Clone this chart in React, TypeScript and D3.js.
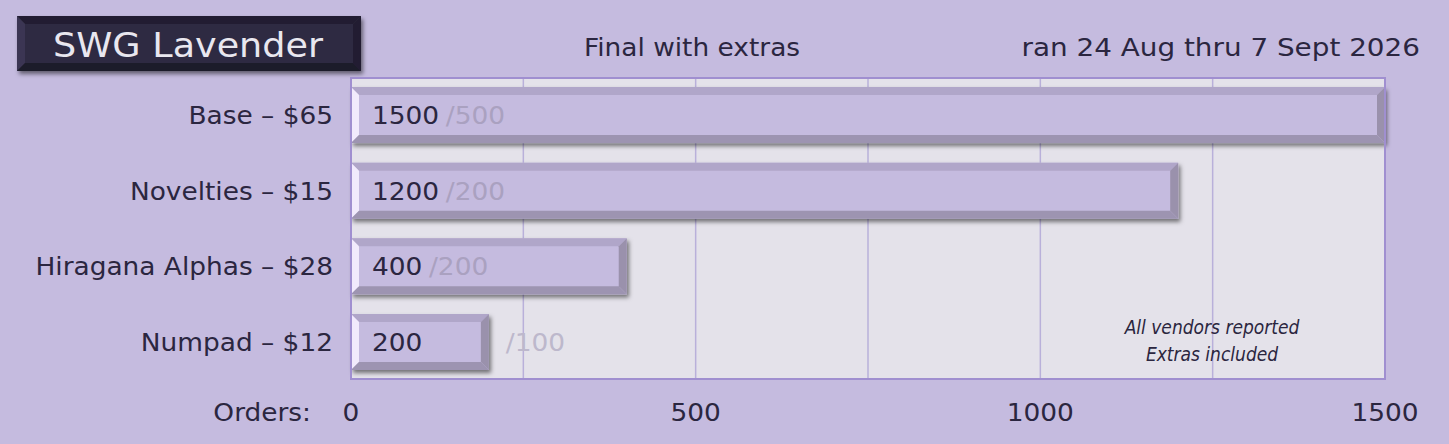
import React from "react";
import * as d3 from "d3";

const categories: string[] = ["Base – $65", "Novelties – $15", "Hiragana Alphas – $28", "Numpad – $12"];
const orders: number[] = [1500, 1200, 400, 200];
const extras: number[] = [500, 200, 200, 100];
const xTicks: number[] = [0, 500, 1000, 1500];
const gridTicks: number[] = [250, 500, 750, 1000, 1250];
const title = "SWG Lavender";
const subtitle = "Final with extras";
const dateRange = "ran 24 Aug thru 7 Sept 2026";
const notes: string[] = ["All vendors reported", "Extras included"];

const width = 1449;
const height = 444;
const marginLeft = 351;
const marginRight = 64;
const marginTop = 78;
const marginBottom = 65;
const bevel = 8;

const font = "'DejaVu Sans', sans-serif";
const ink = "#2b2640";

// text stretched sideways, the original face is wider than anything installed
const Wide: React.FC<{ x: number; y: number; sx?: number; size?: number; anchor?: string; fill?: string; children: React.ReactNode }> =
    ({ x, y, sx = 1.1, size = 24, anchor = "start", fill = ink, children }) => (
        <text transform={`translate(${x},${y}) scale(${sx},1)`} textAnchor={anchor} fontFamily={font} fontSize={size} fill={fill}>
            {children}
        </text>
    );

const App: React.FC = () => {
    const xScale = d3.scaleLinear().domain([0, 1500]).range([marginLeft, width - marginRight]);
    const yScale = d3.scaleBand<string>()
        .domain(categories)
        .range([marginTop, height - marginBottom])
        .paddingInner(0.26)
        .paddingOuter(0.12);
    const bw = yScale.bandwidth();
    const x0 = xScale(0);

    return (
        <svg width={width} height={height} style={{ position: "absolute", left: 0, top: 0, background: "#c5bbdf" }}>
            <defs>
                <filter id="shadow" x="-5%" y="-20%" width="110%" height="160%">
                    <feDropShadow dx="2" dy="3" stdDeviation="2" floodColor="#000" floodOpacity="0.5" />
                </filter>
            </defs>
            <rect width={width} height={height} fill="#c5bbdf" />

            {/* title box */}
            <g filter="url(#shadow)">
                <rect x={17} y={16} width={344} height={55} fill="#2e2a42" />
                <polygon points="17,16 361,16 353,24 25,24" fill="#221e31" />
                <polygon points="17,16 25,24 25,63 17,71" fill="#3b3652" />
                <polygon points="361,16 361,71 353,63 353,24" fill="#221e31" />
                <polygon points="17,71 361,71 353,63 25,63" fill="#1f1b2c" />
            </g>
            <Wide x={188} y={57} size={34} sx={1.075} anchor="middle" fill="#e9e7ef">{title}</Wide>
            <Wide x={692} y={56} anchor="middle">{subtitle}</Wide>
            <Wide x={1420} y={56} sx={1.16} anchor="end">{dateRange}</Wide>

            {/* plot area */}
            <rect x={marginLeft} y={marginTop} width={width - marginRight - marginLeft} height={height - marginBottom - marginTop} fill="#e4e2ea" />
            {gridTicks.map(t => (
                <line key={t} x1={xScale(t)} x2={xScale(t)} y1={marginTop} y2={height - marginBottom} stroke="#b9b0da" strokeWidth={1.5} />
            ))}

            {/* bars */}
            {categories.map((c, i) => {
                const y = yScale(c)!;
                const x1 = xScale(orders[i]);
                const b = bevel;
                const ty = y + bw / 2 + 9;
                return (
                    <g key={c}>
                        <g filter="url(#shadow)">
                            <rect x={x0} y={y} width={x1 - x0} height={bw} fill="#c5bbdf" />
                            <polygon points={`${x0},${y} ${x1},${y} ${x1 - b},${y + b} ${x0 + b},${y + b}`} fill="#b0a6c9" />
                            <polygon points={`${x0},${y} ${x0 + b},${y + b} ${x0 + b},${y + bw - b} ${x0},${y + bw}`} fill="#f1eafc" />
                            <polygon points={`${x1},${y} ${x1},${y + bw} ${x1 - b},${y + bw - b} ${x1 - b},${y + b}`} fill="#9a91ac" />
                            <polygon points={`${x0},${y + bw} ${x1},${y + bw} ${x1 - b},${y + bw - b} ${x0 + b},${y + bw - b}`} fill="#9d94b1" />
                        </g>
                        <Wide x={x0 + 21} y={ty}>
                            <tspan fill={ink}>{orders[i]}</tspan>
                            {orders[i] > 300 ? (
                                <tspan fill="#aaa1c0" dx={6}>/{extras[i]}</tspan>
                            ) : null}
                        </Wide>
                        {orders[i] <= 300 ? (
                            <Wide x={x1 + 17} y={ty} fill="#bdb8cc">/{extras[i]}</Wide>
                        ) : null}
                        <Wide x={marginLeft - 18} y={ty} anchor="end">{c}</Wide>
                    </g>
                );
            })}

            <rect x={marginLeft} y={marginTop} width={width - marginRight - marginLeft} height={height - marginBottom - marginTop} fill="none" stroke="#a08fd0" strokeWidth={2} />

            {/* notes */}
            {notes.map((n, i) => (
                <text key={n} x={1212} y={334 + i * 27} textAnchor="middle" fontFamily="'DejaVu Sans', sans-serif" fontStretch="condensed" fontStyle="italic" fontSize={19} fill={ink}>{n}</text>
            ))}

            {/* x axis */}
            <Wide x={311} y={421} anchor="end">Orders:</Wide>
            {xTicks.map(t => (
                <Wide key={t} x={xScale(t)} y={421} anchor="middle">{t}</Wide>
            ))}
        </svg>
    );
};

export default App;
